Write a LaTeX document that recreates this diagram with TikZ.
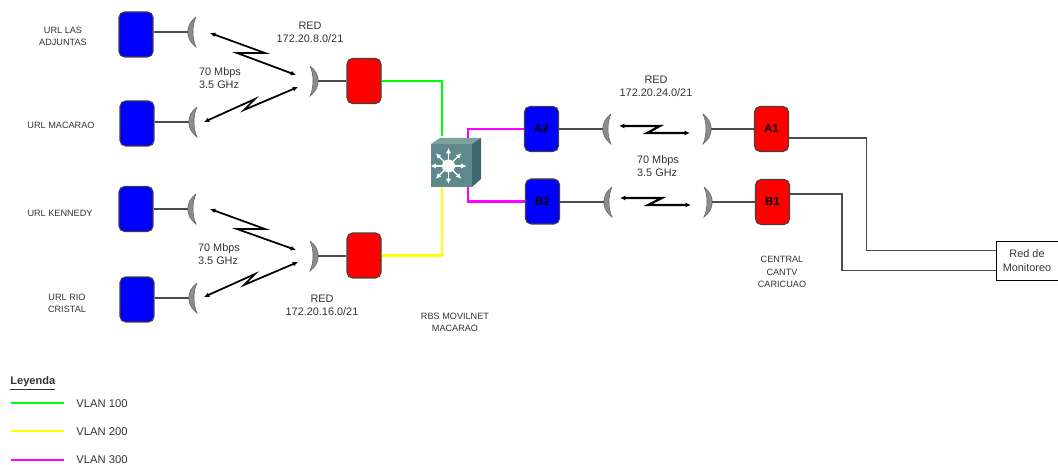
\documentclass[tikz,border=0pt]{standalone}
\usepackage{fontspec}
\setmainfont{Liberation Sans}
\usepackage{xcolor}
\usetikzlibrary{arrows.meta}
\definecolor{vlanverde}{RGB}{0,255,0}
\definecolor{vlanamarillo}{RGB}{255,255,0}
\definecolor{vlanmagenta}{RGB}{255,0,255}
\definecolor{cubofrente}{RGB}{94,137,140}
\definecolor{cubotapa}{RGB}{128,160,160}
\definecolor{cubolado}{RGB}{62,104,108}
\tikzset{
  equipo/.style={draw=black!75,line width=0.6pt,rounded corners=0.11cm,minimum width=0.68cm,minimum height=0.9cm,inner sep=0pt,font=\fontsize{6.5pt}{7pt}\bfseries\selectfont,text=black},
  azul/.style={equipo,fill=blue},
  rojo/.style={equipo,fill=red},
  etiqueta/.style={align=center,text=black!80,inner sep=0pt,font=\fontsize{6.2pt}{7.6pt}\selectfont},
  chica/.style={align=center,text=black!80,inner sep=0pt,font=\fontsize{5.2pt}{7.1pt}\selectfont},
  leyendatxt/.style={etiqueta,anchor=west,font=\fontsize{6.4pt}{7pt}\selectfont},
  cable/.style={black!70,line width=0.6pt},
  vlan/.style={line width=1.2pt},
  enlace/.style={black,line width=1pt,{Latex[length=3pt,width=2.8pt]}-{Latex[length=3pt,width=2.8pt]}},
  antena/.pic={
    \draw[black!60,fill=black!45,line width=0.35pt] (0,-15) .. controls (-11,-7) and (-11,7) .. (0,15) .. controls (-4,7) and (-4,-7) .. (0,-15);
  }
}
\begin{document}
\begin{tikzpicture}[x=0.02cm,y=-0.02cm]
  \useasboundingbox (0,0) rectangle (1058,465);

  \node[azul] (url1) at (136,34.5) {};
  \node[azul] (url2) at (137,123.5) {};
  \node[azul] (url3) at (136,209) {};
  \node[azul] (url4) at (137,299.5) {};
  \node[rojo] (rojo1) at (364,81) {};
  \node[rojo] (rojo2) at (364,255.5) {};
  \node[azul] (A2) at (541.5,129) {A2};
  \node[azul] (B2) at (542.5,201.5) {B2};
  \node[rojo] (A1) at (771.5,129) {A1};
  \node[rojo] (B1) at (772.5,202) {B1};
  \node[draw=black,line width=0.5pt,minimum width=1.24cm,minimum height=0.78cm,inner sep=0pt,etiqueta] (monitoreo) at (1027,260.5) {Red de\\Monitoreo};

  \path (196,32) pic {antena} coordinate (ant1);
  \path (197,122) pic {antena} coordinate (ant2);
  \path (196,209) pic {antena} coordinate (ant3);
  \path (197,298) pic {antena} coordinate (ant4);
  \path (310,81) pic[xscale=-1] {antena} coordinate (ant5);
  \path (310,256) pic[xscale=-1] {antena} coordinate (ant6);
  \path (611,129) pic {antena} coordinate (ant7);
  \path (703,129) pic[xscale=-1] {antena} coordinate (ant8);
  \path (612,202) pic {antena} coordinate (ant9);
  \path (704,202) pic[xscale=-1] {antena} coordinate (ant10);

  \draw[cable] (url1.east |- ant1) -- ([xshift=-0.16cm]ant1);
  \draw[cable] (url2.east |- ant2) -- ([xshift=-0.16cm]ant2);
  \draw[cable] (url3.east |- ant3) -- ([xshift=-0.16cm]ant3);
  \draw[cable] (url4.east |- ant4) -- ([xshift=-0.16cm]ant4);
  \draw[cable] ([xshift=0.16cm]ant5) -- (rojo1.west |- ant5);
  \draw[cable] ([xshift=0.16cm]ant6) -- (rojo2.west |- ant6);
  \draw[cable] (A2.east |- ant7) -- ([xshift=-0.16cm]ant7);
  \draw[cable] ([xshift=0.16cm]ant8) -- (A1.west |- ant8);
  \draw[cable] (B2.east |- ant9) -- ([xshift=-0.16cm]ant9);
  \draw[cable] ([xshift=0.16cm]ant10) -- (B1.west |- ant10);

  \coordinate (z1a) at (210,33);
  \coordinate (z1b) at (265,53);
  \coordinate (z1c) at (237,53);
  \coordinate (z1d) at (296,75);
  \coordinate (z2a) at (204,122);
  \coordinate (z2b) at (255,99);
  \coordinate (z2c) at (244,110);
  \coordinate (z2d) at (298,87);
  \coordinate (z3a) at (210,209);
  \coordinate (z3b) at (265,229);
  \coordinate (z3c) at (237,229);
  \coordinate (z3d) at (296,250);
  \coordinate (z4a) at (204,297);
  \coordinate (z4b) at (255,274);
  \coordinate (z4c) at (244,285);
  \coordinate (z4d) at (298,262);
  \coordinate (z5a) at (619,126);
  \coordinate (z5b) at (660,126);
  \coordinate (z5c) at (647,133);
  \coordinate (z5d) at (690,133);
  \coordinate (z6a) at (620,198);
  \coordinate (z6b) at (662,198);
  \coordinate (z6c) at (648,205);
  \coordinate (z6d) at (691,205);
  \foreach \z in {1,2,3,4}
    \draw[enlace] (z\z a) -- (z\z b) -- (z\z c) -- (z\z d);
  \foreach \z in {5,6}
    \draw[enlace,line width=1.2pt] (z\z a) -- (z\z b) -- (z\z c) -- (z\z d);

  \node[minimum width=1cm,minimum height=0.98cm,inner sep=0pt] (switch) at (456,162.5) {};
  \fill[cubotapa] (431,144) -- (440,138) -- (481,138) -- (472,144) -- cycle;
  \fill[cubolado] (472,144) -- (481,138) -- (481,179) -- (472,187) -- cycle;
  \fill[cubofrente] (431,144) rectangle (472,187);
  \foreach \ang in {0,45,...,315}
    \draw[white,line width=0.7pt,-{Latex[length=3pt,width=3pt]}] (448.5,166) -- ++(\ang:18);
  \fill[white] (448.5,166) circle (6.5);

  \coordinate (swarriba) at (442,136);
  \coordinate (swabajo) at (442,187);
  \coordinate (swa2) at (468,138);
  \coordinate (swb2) at (468,187);
  \draw[vlan,vlanverde] (rojo1.east) -| (swarriba);
  \draw[vlan,vlanamarillo] (rojo2.east) -| (swabajo);
  \draw[vlan,vlanmagenta] (A2.west) -| (swa2);
  \draw[vlan,vlanmagenta] (B2.west) -| (swb2);

  \coordinate (c1) at (866.5,250.5);
  \coordinate (c2) at (842,270.5);
  \draw[cable] (A1.east |- 0,138) -| (c1) -- (c1 -| monitoreo.west);
  \draw[cable] (B1.east |- 0,194) -| (c2) -- (c2 -| monitoreo.west);

  \node[chica] (t1) at (63,36.5) {URL LAS\\ADJUNTAS};
  \node[chica] (t2) at (61,125) {URL MACARAO};
  \node[chica] (t3) at (60,213) {URL KENNEDY};
  \node[chica] (t4) at (67,303.5) {URL RIO\\CRISTAL};
  \node[chica] (t5) at (455,322.5) {RBS MOVILNET\\MACARAO};
  \node[chica] (t6) at (782,272) {CENTRAL\\CANTV\hspace*{3.4pt}\\CARICUAO};

  \node[etiqueta] (red1) at (310,32) {RED\\172.20.8.0/21};
  \node[etiqueta] (red2) at (322,305) {RED\\172.20.16.0/21};
  \node[etiqueta] (red3) at (656,86.5) {RED\\172.20.24.0/21};
  \node[etiqueta,align=left] (vel1) at (220,78) {70 Mbps\\3.5 GHz};
  \node[etiqueta,align=left] (vel2) at (219,254) {70 Mbps\\3.5 GHz};
  \node[etiqueta,align=left] (vel3) at (658,166) {70 Mbps\\3.5 GHz};

  \node[chica,anchor=west,font=\fontsize{6.3pt}{7pt}\bfseries\selectfont] (leyenda) at (10,383) {\underline{Leyenda}};
  \coordinate (l1a) at (11,403);
  \coordinate (l1b) at (64,403);
  \coordinate (l2a) at (11,431);
  \coordinate (l2b) at (64,431);
  \coordinate (l3a) at (11,460);
  \coordinate (l3b) at (64,460);
  \draw[vlan,vlanverde] (l1a) -- (l1b);
  \draw[vlan,vlanamarillo] (l2a) -- (l2b);
  \draw[vlan,vlanmagenta] (l3a) -- (l3b);
  \node[leyendatxt] (v1) at (76,404) {VLAN 100};
  \node[leyendatxt] (v2) at (76,432) {VLAN 200};
  \node[leyendatxt] (v3) at (76,460) {VLAN 300};
\end{tikzpicture}
\end{document}
